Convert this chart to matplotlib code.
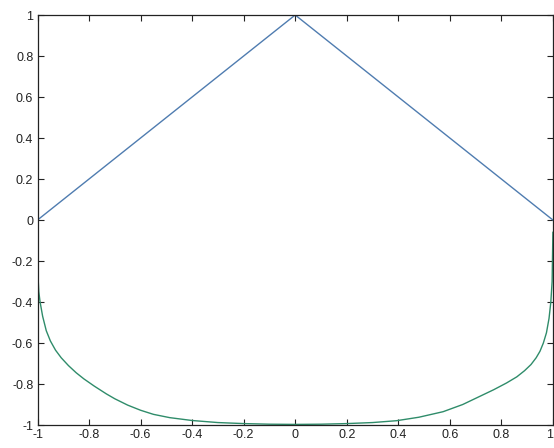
import matplotlib
matplotlib.use("Agg")
import matplotlib.pyplot as plt

# Data
tri_x = [-1.0, 0.0, 1.0]
tri_y = [0.0, 1.0, 0.0]

curve_x = [-1.0, -0.999, -0.995, -0.99, -0.98, -0.966, -0.95, -0.93, -0.908,
           -0.88, -0.85, -0.82, -0.78, -0.733, -0.70, -0.65, -0.60, -0.55,
           -0.487, -0.40, -0.3, -0.2, -0.1, 0.0, 0.1, 0.2, 0.3, 0.393, 0.48,
           0.574, 0.65, 0.72, 0.77, 0.82, 0.86, 0.89, 0.915, 0.935, 0.95,
           0.963, 0.975, 0.985, 0.992, 0.997, 1.0]
curve_y = [-0.08, -0.25, -0.35, -0.40, -0.47, -0.54, -0.59, -0.635, -0.672,
           -0.71, -0.745, -0.775, -0.81, -0.848, -0.872, -0.903, -0.928, -0.948,
           -0.964, -0.978, -0.988, -0.993, -0.996, -0.997, -0.996, -0.993, -0.988,
           -0.979, -0.962, -0.935, -0.90, -0.858, -0.828, -0.795, -0.765, -0.735,
           -0.705, -0.672, -0.64, -0.60, -0.55, -0.48, -0.40, -0.30, -0.06]

x_ticks = [-1, -0.8, -0.6, -0.4, -0.2, 0, 0.2, 0.4, 0.6, 0.8, 1]
y_ticks = [-1, -0.8, -0.6, -0.4, -0.2, 0, 0.2, 0.4, 0.6, 0.8, 1]

plt.rcParams['font.family'] = ['Liberation Sans', 'DejaVu Sans']

fig = plt.figure(figsize=(5.54, 4.48), dpi=100)
ax = fig.add_axes([0.0677, 0.0513, 0.9303, 0.9152])

ax.plot(tri_x, tri_y, color='#4f7cb0', linewidth=1.0)
ax.plot(curve_x, curve_y, color='#2f8c6a', linewidth=1.0)

ax.set_xlim(-1, 1)
ax.set_ylim(-1, 1)
ax.set_xticks(x_ticks)
ax.set_yticks(y_ticks)
ax.set_xticklabels(["%g" % v for v in x_ticks])
ax.set_yticklabels(["%g" % v for v in y_ticks])
ax.tick_params(direction='in', length=4, width=0.8, top=True, right=True,
               labelsize=9, colors='#222222', pad=3)
# keep the last x label inside the canvas
ax.get_xticklabels()[-1].set_horizontalalignment('right')
for sp in ax.spines.values():
    sp.set_linewidth(0.9)
    sp.set_color('#222222')

fig.savefig("out.png", dpi=100)
